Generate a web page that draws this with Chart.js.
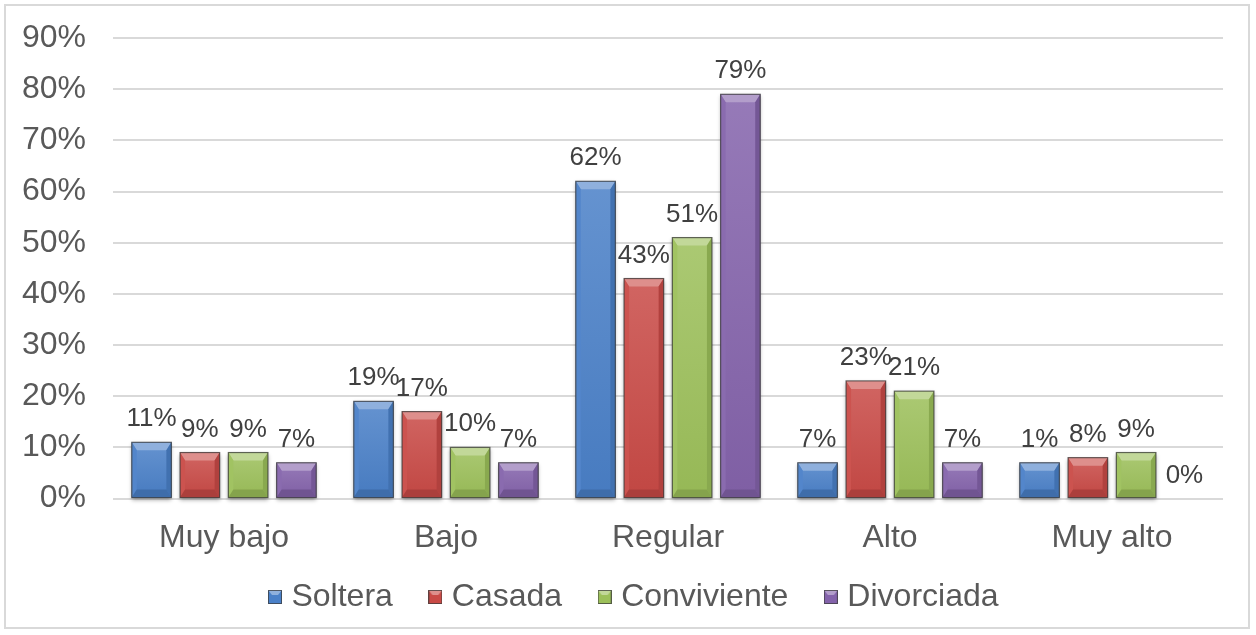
<!DOCTYPE html>
<html>
<head>
<meta charset="utf-8">
<script src="https://cdn.jsdelivr.net/npm/chart.js@4"></script>
<style>
  html, body { margin: 0; padding: 0; background: #fff; }
  #frame {
    position: absolute; left: 4px; top: 4px; width: 1246px; height: 625px;
    border: 2px solid #d9d9d9; box-sizing: border-box; background: #fff;
  }
</style>
</head>
<body>
<div id="frame"><canvas id="chart"></canvas></div>
<script>
// Categories and series values (percent)
const categories = ['Muy bajo', 'Bajo', 'Regular', 'Alto', 'Muy alto'];
const soltera     = [11, 19, 62, 7, 7];
const casada      = [9, 17, 43, 23, 8];
const conviviente = [9, 10, 51, 21, 9];
const divorciada  = [7, 7, 79, 7, 0];

// Data labels as printed above each bar
const solteraLabels     = ['11%', '19%', '62%', '7%', '1%'];
const casadaLabels      = ['9%', '17%', '43%', '23%', '8%'];
const convivienteLabels = ['9%', '10%', '51%', '21%', '9%'];
const divorciadaLabels  = ['7%', '7%', '79%', '7%', '0%'];

const yTicks = [0, 10, 20, 30, 40, 50, 60, 70, 80, 90];

const FONT = '"Liberation Sans", Arial, sans-serif';

function shade(hex, amt) {
  const n = parseInt(hex.slice(1), 16);
  let r = (n >> 16) & 255, g = (n >> 8) & 255, b = n & 255;
  const f = v => Math.max(0, Math.min(255, Math.round(amt >= 0 ? v + (255 - v) * amt : v * (1 + amt))));
  return `rgb(${f(r)},${f(g)},${f(b)})`;
}

// bevelled bars + data labels drawn over the library's bar elements
const bevelPlugin = {
  id: 'bevel',
  afterLayout(chart) {
    // category labels sit a little lower than the squeezed axis box; don't clip them
    chart.scales.x.bottom = chart.height;
    // nudge the legend row to the right like the original
    chart.legend.left += 22;
    chart.legend.right += 22;
  },
  afterDatasetsDraw(chart) {
    const ctx = chart.ctx;
    chart.data.datasets.forEach((ds, i) => {
      const meta = chart.getDatasetMeta(i);
      meta.data.forEach((bar, j) => {
        const { x, y, base, width } = bar.getProps(['x', 'y', 'base', 'width'], true);
        const x0 = x - width / 2, x1 = x + width / 2;
        const h = base - y;
        const c = ds.baseColor;
        ctx.save();
        if (h > 1) {
          // body with soft shadow
          const grad = ctx.createLinearGradient(0, y, 0, base);
          grad.addColorStop(0, shade(c, 0.15));
          grad.addColorStop(1, shade(c, -0.04));
          ctx.save();
          ctx.shadowColor = 'rgba(0,0,0,0.35)';
          ctx.shadowBlur = 4;
          ctx.shadowOffsetY = 2;
          ctx.fillStyle = grad;
          ctx.fillRect(x0, y, width, h);
          ctx.restore();
          const t = Math.min(8, h / 2), s = Math.min(5, h / 3);
          // top facet
          ctx.fillStyle = shade(c, 0.38);
          ctx.beginPath();
          ctx.moveTo(x0, y); ctx.lineTo(x1, y); ctx.lineTo(x1 - s, y + t); ctx.lineTo(x0 + s, y + t); ctx.closePath();
          ctx.fill();
          // left facet
          ctx.fillStyle = shade(c, 0.05);
          ctx.beginPath();
          ctx.moveTo(x0, y); ctx.lineTo(x0 + s, y + t); ctx.lineTo(x0 + s, base - t); ctx.lineTo(x0, base); ctx.closePath();
          ctx.fill();
          // right facet
          ctx.fillStyle = shade(c, -0.12);
          ctx.beginPath();
          ctx.moveTo(x1, y); ctx.lineTo(x1 - s, y + t); ctx.lineTo(x1 - s, base - t); ctx.lineTo(x1, base); ctx.closePath();
          ctx.fill();
          // bottom facet
          ctx.fillStyle = shade(c, -0.15);
          ctx.beginPath();
          ctx.moveTo(x0, base); ctx.lineTo(x0 + s, base - t); ctx.lineTo(x1 - s, base - t); ctx.lineTo(x1, base); ctx.closePath();
          ctx.fill();
          ctx.strokeStyle = 'rgba(60,60,60,0.75)';
          ctx.lineWidth = 1.2;
          ctx.strokeRect(x0, y, width, h);
        }
        // value label
        ctx.fillStyle = '#404040';
        ctx.font = '26px ' + FONT;
        ctx.textAlign = 'center';
        ctx.textBaseline = 'alphabetic';
        ctx.fillText(ds.valueLabels[j], x, y - 16);
        ctx.restore();
      });
    });
  }
};

// legend boxes with a little bevel as well
const legendBox = (color) => {
  const cv = document.createElement('canvas');
  cv.width = 14; cv.height = 14;
  const g = cv.getContext('2d');
  g.fillStyle = color; g.fillRect(0, 0, 14, 14);
  g.fillStyle = shade(color, 0.38);
  g.beginPath(); g.moveTo(0, 0); g.lineTo(14, 0); g.lineTo(10, 5); g.lineTo(4, 5); g.closePath(); g.fill();
  g.strokeStyle = 'rgba(60,60,60,0.75)'; g.lineWidth = 1; g.strokeRect(0.5, 0.5, 13, 13);
  return cv;
};

const series = [
  { label: 'Soltera', data: soltera, valueLabels: solteraLabels, color: '#4a80c8' },
  { label: 'Casada', data: casada, valueLabels: casadaLabels, color: '#c94a46' },
  { label: 'Conviviente', data: conviviente, valueLabels: convivienteLabels, color: '#9cc05a' },
  { label: 'Divorciada', data: divorciada, valueLabels: divorciadaLabels, color: '#8463ab' }
];

new Chart(document.getElementById('chart'), {
  type: 'bar',
  data: {
    labels: categories,
    datasets: series.map(s => ({
      label: s.label,
      data: s.data,
      valueLabels: s.valueLabels,
      baseColor: s.color,
      backgroundColor: s.color,
      borderWidth: 0,
      pointStyle: legendBox(s.color),
      categoryPercentage: 0.87,
      barPercentage: 0.82
    }))
  },
  plugins: [bevelPlugin],
  options: {
    responsive: true,
    maintainAspectRatio: false,
    animation: false,
    layout: { padding: { top: 32, right: 25, left: 0, bottom: 4 } },
    plugins: {
      legend: {
        position: 'bottom',
        labels: {
          usePointStyle: true,
          pointStyleWidth: 1,
          boxHeight: 14,
          color: '#595959',
          font: { family: FONT, size: 32 },
          padding: 42
        }
      },
      tooltip: { enabled: false }
    },
    scales: {
      x: {
        grid: { display: false },
        border: { display: false },
        afterFit: (scale) => { scale.height -= 30; scale.paddingLeft = 0; scale.paddingRight = 0; },
        ticks: { color: '#595959', font: { family: FONT, size: 32 }, padding: 12 }
      },
      y: {
        min: 0,
        max: 90,
        afterBuildTicks: (scale) => { scale.ticks = yTicks.map(v => ({ value: v })); },
        afterFit: (scale) => { scale.width = 107; scale.paddingTop = 0; scale.paddingBottom = 0; },
        grid: { color: '#d9d9d9', lineWidth: 2, drawTicks: false },
        border: { display: false },
        ticks: {
          color: '#595959',
          font: { family: FONT, size: 32 },
          padding: 27,
          callback: v => v + '%'
        }
      }
    }
  }
});
</script>
</body>
</html>
